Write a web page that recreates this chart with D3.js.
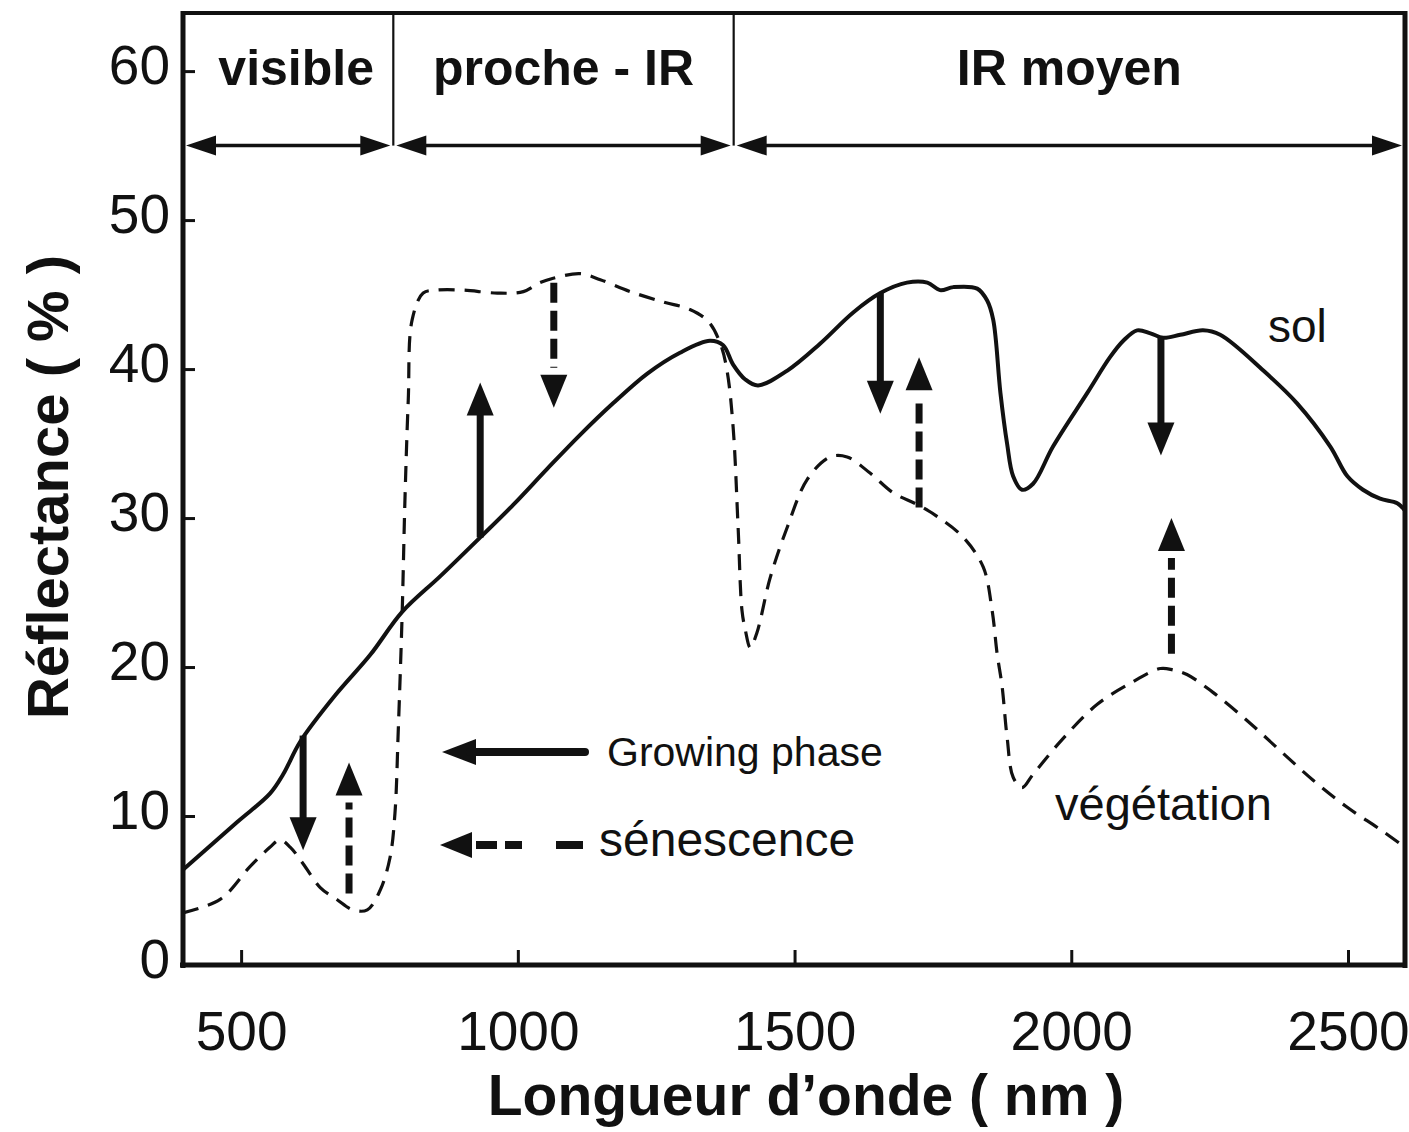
<!DOCTYPE html>
<html>
<head>
<meta charset="utf-8">
<script src="https://cdn.jsdelivr.net/npm/d3@7"></script>
<style>
  html, body { margin: 0; padding: 0; background: #fff; }
  text { font-family: "Liberation Sans", Arial, Helvetica, sans-serif; fill: #111; }
</style>
</head>
<body>
<svg id="chart" width="1409" height="1132"></svg>
<script>
// ---------------- data ----------------
const xTicks = [500, 1000, 1500, 2000, 2500];
const yTicks = [0, 10, 20, 30, 40, 50, 60];

const bandNames = ["visible", "proche - IR", "IR moyen"];
const bandEdges = [395, 775, 1390, 2603];
const bandArrowLevel = 55;

// sol (solid curve)
const soilNm = [395,493,552,576,607,670,733,791,860,932,992,1053,1113,1172,1234,1293,1347,1371,1389,1411,1434,1487,1546,1606,1655,1703,1740,1763,1787,1830,1848,1859,1872,1884,1895,1911,1931,1967,2029,2070,2094,2119,2143,2166,2197,2238,2269,2347,2408,2468,2499,2527,2558,2589,2603];
const soilRefl = [6.4,9.6,11.5,12.8,15.0,18.1,20.8,23.7,26.1,28.7,30.9,33.3,35.6,37.7,39.7,41.1,41.9,41.6,40.3,39.3,38.9,39.9,41.7,43.8,45.1,45.8,45.8,45.3,45.5,45.4,44.6,43.3,38.4,35.0,32.8,31.9,32.3,34.8,38.4,40.8,41.9,42.6,42.4,42.1,42.3,42.6,42.3,39.9,37.7,34.8,32.8,31.9,31.3,31.0,30.5];

// végétation (dashed curve)
const vegNm = [395,462,516,552,570,589,612,643,673,702,728,751,769,778,784,791,796,802,809,829,854,901,963,1010,1040,1064,1113,1149,1203,1263,1311,1344,1366,1378,1389,1398,1405,1411,1420,1432,1456,1487,1523,1564,1595,1637,1678,1722,1758,1805,1841,1857,1866,1875,1884,1895,1911,1931,1985,2047,2106,2161,2184,2209,2256,2318,2377,2437,2498,2558,2603];
const vegRefl = [3.5,4.4,6.6,7.9,8.4,7.9,6.8,5.2,4.4,3.7,3.7,5.0,7.2,10.2,15.8,23.6,31.2,37.9,43.3,45.1,45.3,45.3,45.1,45.2,45.8,46.1,46.4,46.0,45.2,44.5,44.0,43.2,41.7,39.9,36.1,29.4,23.8,22.5,21.3,22.3,26.0,29.4,32.6,34.1,34.1,33.0,31.7,30.9,30.1,28.7,26.7,23.8,20.9,18.7,15.3,12.6,11.9,12.8,15.2,17.5,18.9,19.9,19.8,19.5,18.3,16.4,14.4,12.4,10.6,9.1,7.9];

// change arrows
const growthNm = [612, 932, 1655, 2162];
const growthFrom = [15.4, 28.7, 45.1, 42.1];
const growthTo = [7.7, 39.1, 37.0, 34.2];

const senesNm = [695, 1065, 1725, 2181];
const senesFrom = [4.8, 45.8, 30.7, 20.9];
const senesTo = [13.6, 37.4, 40.8, 30.0];

const legendLabels = ["Growing phase", "sénescence"];
const curveLabels = ["sol", "végétation"];
const xTitle = "Longueur d\u2019onde ( nm )";
const yTitle = "Réflectance ( % )";

// ---------------- drawing ----------------
const svg = d3.select("#chart");
svg.append("rect").attr("width", 1409).attr("height", 1132).attr("fill", "#fff");

const x = d3.scaleLinear().domain([395, 2603]).range([183, 1405]);
const y = d3.scaleLinear().domain([0, 63.9]).range([965, 13]);

// axes
const gx = svg.append("g").attr("transform", `translate(0,${y(0)})`)
  .call(d3.axisBottom(x).tickValues(xTicks).tickSize(-15).tickSizeOuter(0).tickPadding(46).tickFormat(d3.format("d")));
const gy = svg.append("g").attr("transform", `translate(${x(395)},0)`)
  .call(d3.axisLeft(y).tickValues(yTicks).tickSize(-12).tickSizeOuter(0).tickPadding(13).tickFormat(d3.format("d")));

[gx, gy].forEach(g => {
  g.select(".domain").attr("stroke", "#111").attr("stroke-width", 5);
  g.selectAll(".tick line").attr("stroke", "#111").attr("stroke-width", 3);
  g.selectAll(".tick text").attr("font-size", 55).attr("fill", "#111")
    .style("font-family", "'Liberation Sans', Arial, sans-serif");
});
gy.selectAll(".tick text").attr("dy", "0.22em");
gy.select(".domain").attr("d", `M0,${y(0) + 3}V${y(63.9) - 2}`);
gx.select(".domain").attr("d", `M${x(395) - 3},0H${x(2603) + 2}`);

// top and right frame
svg.append("line").attr("x1", x(395)).attr("x2", x(2603) + 2).attr("y1", y(63.9)).attr("y2", y(63.9))
  .attr("stroke", "#111").attr("stroke-width", 4);
svg.append("line").attr("x1", x(2603)).attr("x2", x(2603)).attr("y1", y(63.9) - 2).attr("y2", y(0) + 3)
  .attr("stroke", "#111").attr("stroke-width", 5);

// spectral bands
const bandY = y(bandArrowLevel);
const bandG = svg.append("g");
bandEdges.slice(1, -1).forEach(e => {
  bandG.append("line").attr("x1", x(e)).attr("x2", x(e)).attr("y1", y(63.9)).attr("y2", bandY)
    .attr("stroke", "#111").attr("stroke-width", 2.2);
});
function hHead(g, tipX, cy, dir, len, half) {
  g.append("path")
    .attr("d", `M${tipX},${cy} L${tipX - dir * len},${cy - half} L${tipX - dir * len},${cy + half} Z`)
    .attr("fill", "#111");
}
bandNames.forEach((name, i) => {
  const a = x(bandEdges[i]) + 3, b = x(bandEdges[i + 1]) - 3;
  bandG.append("line").attr("x1", a + 10).attr("x2", b - 10).attr("y1", bandY).attr("y2", bandY)
    .attr("stroke", "#111").attr("stroke-width", 3.5);
  hHead(bandG, a, bandY, -1, 30, 10);
  hHead(bandG, b, bandY, 1, 30, 10);
  bandG.append("text").attr("x", (a + b) / 2 + (i === 0 ? 8 : 0)).attr("y", y(60) + 14)
    .attr("text-anchor", "middle").attr("font-size", 50).attr("font-weight", "bold")
    .text(name);
});

// curves
const line = d3.line().x(d => x(d[0])).y(d => y(d[1])).curve(d3.curveCatmullRom.alpha(0.5));
svg.append("path").datum(soilNm.map((n, i) => [n, soilRefl[i]]))
  .attr("d", line).attr("fill", "none").attr("stroke", "#111").attr("stroke-width", 4)
  .attr("stroke-linejoin", "round");
svg.append("path").datum(vegNm.map((n, i) => [n, vegRefl[i]]))
  .attr("d", line).attr("fill", "none").attr("stroke", "#111").attr("stroke-width", 3.2)
  .attr("stroke-dasharray", "16,10");

// change arrows
function vArrow(nm, from, to, dashed) {
  const X = x(nm), y0 = y(from), y1 = y(to);
  const dir = y1 > y0 ? 1 : -1;
  const len = 33, half = 13.5;
  const shaftEnd = y1 - dir * (dashed ? len + 7 : len - 2);
  svg.append("line").attr("x1", X).attr("x2", X).attr("y1", y0).attr("y2", shaftEnd)
    .attr("stroke", "#111").attr("stroke-width", 7)
    .attr("stroke-dasharray", dashed ? "20,8" : null);
  svg.append("path")
    .attr("d", `M${X},${y1} L${X - half},${y1 - dir * len} L${X + half},${y1 - dir * len} Z`)
    .attr("fill", "#111");
}
growthNm.forEach((n, i) => vArrow(n, growthFrom[i], growthTo[i], false));
senesNm.forEach((n, i) => vArrow(n, senesFrom[i], senesTo[i], true));

// legend
const lg = svg.append("g");
hHead(lg, 442, 752, -1, 34, 13);
lg.append("line").attr("x1", 470).attr("x2", 585).attr("y1", 752).attr("y2", 752)
  .attr("stroke", "#111").attr("stroke-width", 8).attr("stroke-linecap", "round");
lg.append("text").attr("x", 607).attr("y", 766).attr("font-size", 41).text(legendLabels[0]);
hHead(lg, 440, 845, -1, 32, 13);
lg.append("line").attr("x1", 476).attr("x2", 583).attr("y1", 845).attr("y2", 845)
  .attr("stroke", "#111").attr("stroke-width", 8).attr("stroke-dasharray", "21 8 17 34 27");
lg.append("text").attr("x", 599).attr("y", 856).attr("font-size", 48).text(legendLabels[1]);

// curve labels
svg.append("text").attr("x", 1268).attr("y", 342).attr("font-size", 46).text(curveLabels[0]);
svg.append("text").attr("x", 1055).attr("y", 820).attr("font-size", 47).text(curveLabels[1]);

// axis titles
svg.append("text").attr("x", 806).attr("y", 1115).attr("text-anchor", "middle")
  .attr("font-size", 57).attr("font-weight", "bold").text(xTitle);
svg.append("text").attr("transform", "translate(68,487) rotate(-90)").attr("text-anchor", "middle")
  .attr("font-size", 58).attr("font-weight", "bold").text(yTitle);
</script>
</body>
</html>
